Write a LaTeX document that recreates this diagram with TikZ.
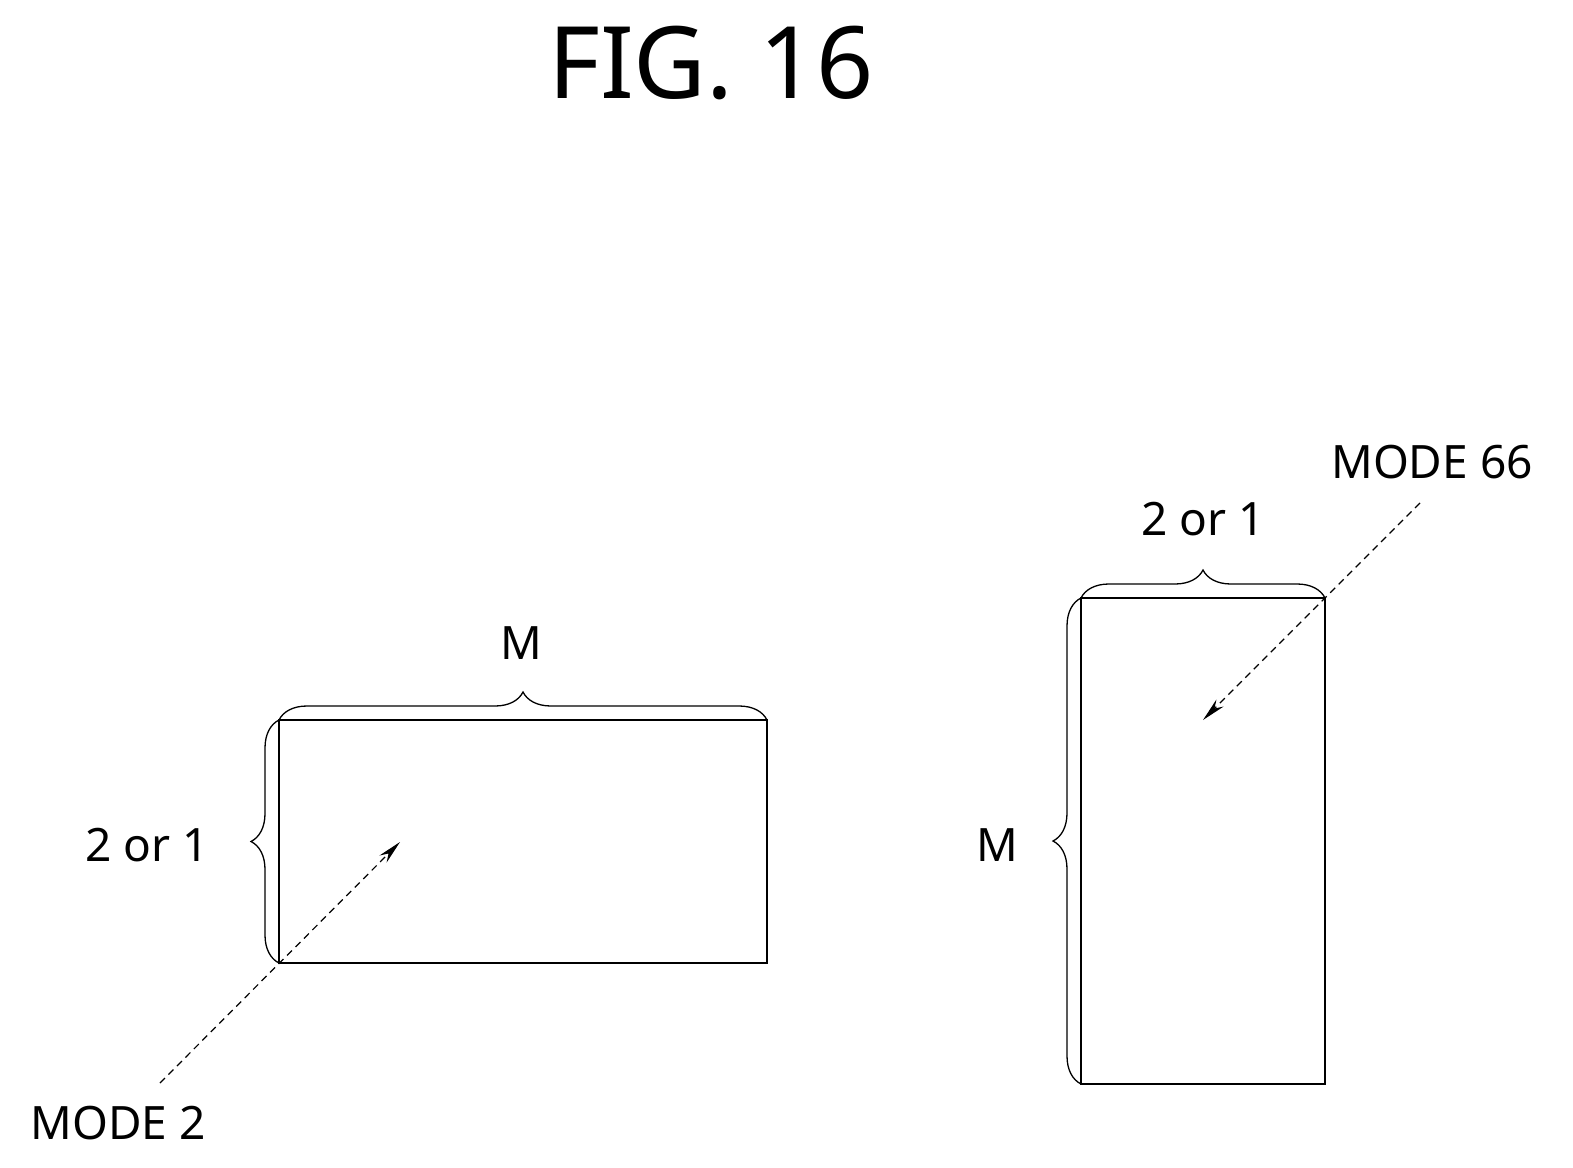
\documentclass[tikz,border=0pt]{standalone}
\usepackage{fontspec}
\setmainfont{Noto Sans}
\usetikzlibrary{decorations.pathreplacing,arrows.meta}
\begin{document}
\begin{tikzpicture}[x=1pt,y=-1pt,
  blk/.style={draw,line width=2pt},
  brc/.style={draw,line width=1.3pt,decorate,decoration={brace,amplitude=28pt}},
  dir/.style={draw,line width=1.2pt,dash pattern=on 7pt off 5pt,-{Stealth[length=24pt,width=10pt]}},
  lbl/.style={font=\fontsize{46}{50}\selectfont}]
\useasboundingbox (0,0) rectangle (1573,1167);
% title
\node[font=\fontsize{100}{110}\selectfont] (title) at (711,63) {FIG. 16};
%-----------------------------------------------------------%
% left block, M wide
\draw[blk] (279,720) rectangle (767,963);
\coordinate (lbl) at (279,963);
\coordinate (ltr) at (767,720);
\draw[brc] (279,720) -- (767,720);
\draw[brc] (279,963) -- (279,720);
\node[lbl] (lm) at (521,643) {M};
\node[lbl] (lw) at (147,845) {2 or 1};
% mode 2
\coordinate (ms) at (160,1083);
\coordinate (me) at (400,842);
\draw[dir] (ms) -- (me);
\node[lbl] (m2) at (118,1123) {MODE 2};
%-----------------------------------------------------------%
% right block, M tall
\draw[blk] (1081,598) rectangle (1325,1084);
\draw[brc] (1081,598) -- (1325,598);
\draw[brc] (1081,1084) -- (1081,598);
\node[lbl] (rw) at (1203,519) {2 or 1};
\node[lbl] (rm) at (997,845) {M};
% mode 66
\coordinate (ns) at (1420,503);
\coordinate (ne) at (1203,720);
\draw[dir] (ns) -- (ne);
\node[lbl] (m66) at (1432,462) {MODE 66};
\end{tikzpicture}
\end{document}
